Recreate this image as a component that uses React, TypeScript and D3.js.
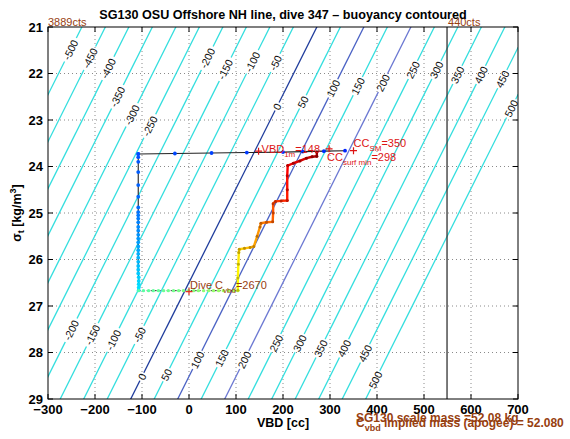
import React from "react";
import * as d3 from "d3";

const W = 570;
const H = 439;

const titleText = "SG130 OSU Offshore NH line, dive 347 – buoyancy contoured";
const xTicks = [-300, -200, -100, 0, 100, 200, 300, 400, 500, 600, 700];
const yTicks = [21, 22, 23, 24, 25, 26, 27, 28, 29];

// buoyancy contour levels (g) and model
const contourLevels = [-500, -450, -400, -350, -300, -250, -200, -150, -100, -50, 0, 50, 100, 150, 200, 250, 300, 350, 400, 450, 500];
const neutralVbdAtSigma29 = -124;
const vbdPerSigma = 49.5;
const upperLabelSigma = [21.49, 21.67, 21.89, 22.5, 22.89, 23.13, 21.67, 21.91, 21.75, 21.77, 22.71, 22.61, 22.32, 22.27, 22.2, 21.92, 21.92, 22.03, 22.03, 22.12, 22.75];
const lowerLabelLevels = [-200, -150, -100, -50, 0, 50, 100, 150, 200, 250, 300, 350, 400, 450, 500];
const lowerLabelSigma = [27.52, 27.62, 27.73, 27.62, 28.52, 28.48, 28.16, 28.12, 28.16, 27.8, 27.8, 27.91, 27.91, 28.02, 28.59];
const blueLevels = [0, 100, 200];
const blueColors = ["#1f3c9c", "#4a62c4", "#6b78d2"];

// dive track [VBD cc, sigma_t]
const surfaceTrack: [number, number][] = [
  [332, 23.66], [287, 23.67], [242, 23.68], [200, 23.69], [123, 23.7], [48, 23.71], [-30, 23.72], [-108, 23.73],
];
const descentTrack: [number, number][] = [
  [-108, 23.73], [-108, 23.8], [-108, 23.9], [-108, 24.12], [-108, 24.4], [-108, 24.65], [-108, 24.88], [-108, 24.98],
  [-108, 25.05], [-108, 25.12], [-108, 25.2], [-108, 25.3], [-108, 25.38], [-108, 25.47], [-108, 25.55], [-108, 25.63],
  [-108, 25.72], [-108, 25.8], [-108, 25.88], [-108, 25.96], [-108, 26.05], [-108, 26.14], [-108, 26.22], [-108, 26.3],
  [-107, 26.38], [-107, 26.46], [-107, 26.53], [-107, 26.6], [-107, 26.66],
];
const apogeeTrack: [number, number][] = [
  [-107, 26.67], [-97, 26.67], [-86, 26.67], [-76, 26.67], [-65, 26.67], [-54, 26.67], [-44, 26.67], [-33, 26.67],
  [-22, 26.67], [-12, 26.67], [-1, 26.67], [10, 26.67], [20, 26.67], [31, 26.67], [42, 26.67], [52, 26.67],
  [63, 26.67], [73, 26.67], [84, 26.67], [95, 26.67], [104, 26.67],
];
const climbTrack: [number, number][] = [
  [104, 26.66], [104, 26.4], [105, 26.1], [106, 25.85], [107, 25.78], [118, 25.76], [130, 25.74], [138, 25.72],
  [145, 25.5], [151, 25.3], [153, 25.22], [165, 25.2], [178, 25.19], [179, 25.0], [179, 24.8], [184, 24.75],
  [196, 24.74], [209, 24.73], [209, 24.5], [209, 24.2], [210, 23.98], [222, 23.93], [236, 23.88], [250, 23.82],
  [262, 23.79], [272, 23.78], [272, 23.69],
];

const vbd1m = 148;
const ccSM = 350;
const ccSurfMin = 298;
const diveCvbd = 2670;
const maxCountsLabel = "3889cts";
const minCountsLabel = "440cts";
const minCountsVbd = 549;
const scaleMass = "52.08";
const impliedMass = "52.080";

const jet = d3
  .scaleLinear<string>()
  .domain([0, 0.125, 0.375, 0.625, 0.875, 1])
  .range(["#00008f", "#0000ff", "#00ffff", "#ffff00", "#ff0000", "#800000"]);

const FONT = "'Liberation Sans', Arial, Helvetica, sans-serif";
const BROWN = "#974010";
const RED = "#dd1414";

export default function App() {
  const x = d3.scaleLinear().domain([-300, 700]).range([48, 518]);
  const y = d3.scaleLinear().domain([21, 29]).range([27, 399]);
  const [xa, xb] = x.range();
  const [ya, yb] = y.range();
  const neutral = (s: number) => neutralVbdAtSigma29 + vbdPerSigma * (29 - s);
  const line = d3.line<[number, number]>().x((d) => x(d[0])).y((d) => y(d[1]));

  const p1 = [x(neutral(21)), y(21)];
  const p2 = [x(neutral(29)), y(29)];
  const angle = (Math.atan2(p1[1] - p2[1], p1[0] - p2[0]) * 180) / Math.PI;

  const contourColor = (lv: number) => {
    const i = blueLevels.indexOf(lv);
    return i >= 0 ? blueColors[i] : "#34dede";
  };

  const labels: { lv: number; cx: number; cy: number }[] = [];
  contourLevels.forEach((lv, i) => {
    const s = upperLabelSigma[i];
    labels.push({ lv, cx: x(lv + neutral(s)), cy: y(s) });
  });
  lowerLabelLevels.forEach((lv, i) => {
    const s = lowerLabelSigma[i];
    labels.push({ lv, cx: x(lv + neutral(s)), cy: y(s) });
  });
  const labelW = (lv: number) => String(lv).length * 5.8 + 3;

  const phase = (arr: any[], a: number, b: number) => (i: number) => a + ((b - a) * i) / Math.max(1, arr.length - 1);
  const surfPh = phase(surfaceTrack, 0.16, 0.2);
  const descPh = phase(descentTrack, 0.2, 0.35);
  const apoPh = phase(apogeeTrack, 0.46, 0.54);
  const climbPh = phase(climbTrack, 0.62, 0.97);

  const plus = (px: number, py: number, color: string, key: string) => (
    <path key={key} d={`M${px - 3.5},${py}H${px + 3.5}M${px},${py - 3.5}V${py + 3.5}`} stroke={color} strokeWidth={1.2} fill="none" />
  );

  const vx1 = x(vbd1m), vy1 = y(23.67);
  const smx = x(ccSM), smy = y(23.66);
  const sfx = x(ccSurfMin), sfy = y(23.62);
  const dcx = x(0), dcy = y(26.69);

  return (
    <svg width={W} height={H} style={{ display: "block", position: "absolute", left: 0, top: 0, background: "#fff" }} fontFamily={FONT}>
      <defs>
        <clipPath id="plotclip">
          <rect x={xa} y={ya} width={xb - xa} height={yb - ya} />
        </clipPath>
        <mask id="lblmask" maskUnits="userSpaceOnUse" x={0} y={0} width={W} height={H}>
          <rect x={0} y={0} width={W} height={H} fill="#fff" />
          {labels.map((l, i) => (
            <rect
              key={i}
              x={-labelW(l.lv) / 2}
              y={-5}
              width={labelW(l.lv)}
              height={10}
              fill="#000"
              transform={`translate(${l.cx},${l.cy}) rotate(${angle})`}
            />
          ))}
        </mask>
      </defs>
      <rect x={0} y={0} width={W} height={H} fill="#fff" />

      {/* grid */}
      <g stroke="#8a8a8a" strokeWidth={1} strokeDasharray="1 3">
        {xTicks.slice(1, -1).map((t) => (
          <line key={"gx" + t} x1={x(t)} x2={x(t)} y1={ya} y2={yb} />
        ))}
        {yTicks.slice(1, -1).map((t) => (
          <line key={"gy" + t} x1={xa} x2={xb} y1={y(t)} y2={y(t)} />
        ))}
      </g>

      {/* contours */}
      <g clipPath="url(#plotclip)">
        <g mask="url(#lblmask)" fill="none" strokeWidth={1.3}>
          {contourLevels.map((lv) => (
            <path
              key={"c" + lv}
              d={line([
                [lv + neutral(20.5), 20.5],
                [lv + neutral(29.5), 29.5],
              ]) || ""}
              stroke={contourColor(lv)}
            />
          ))}
        </g>
        <g fontSize={10.5} fill="#111" textAnchor="middle" dominantBaseline="central">
          {labels.map((l, i) => (
            <text key={"l" + i} transform={`translate(${l.cx},${l.cy}) rotate(${angle})`}>
              {String(l.lv)}
            </text>
          ))}
        </g>

        {/* min counts line */}
        <line x1={x(minCountsVbd)} x2={x(minCountsVbd)} y1={ya} y2={yb} stroke="#333" strokeWidth={1.3} />

        {/* dive track */}
        <path d={line(surfaceTrack) || ""} stroke="#222" strokeWidth={1.1} fill="none" />
        <path d={line(descentTrack) || ""} stroke="#222" strokeWidth={1.1} fill="none" />
        <path d={line(apogeeTrack) || ""} stroke="#333" strokeWidth={1} strokeDasharray="2 2" fill="none" />
        {climbTrack.slice(1).map((d, i) => (
          <line
            key={"cl" + i}
            x1={x(climbTrack[i][0])}
            y1={y(climbTrack[i][1])}
            x2={x(d[0])}
            y2={y(d[1])}
            stroke={jet(climbPh(i))}
            strokeWidth={2.4}
            strokeLinecap="round"
          />
        ))}
        {surfaceTrack.map((d, i) => (
          <circle key={"sm" + i} cx={x(d[0])} cy={y(d[1])} r={1.9} fill={jet(surfPh(i))} />
        ))}
        {descentTrack.map((d, i) => (
          <circle key={"dm" + i} cx={x(d[0])} cy={y(d[1])} r={1.9} fill={jet(descPh(i))} />
        ))}
        {apogeeTrack.map((d, i) => (
          <circle key={"am" + i} cx={x(d[0])} cy={y(d[1])} r={1.7} fill={jet(apoPh(i))} />
        ))}
        {climbTrack.map((d, i) => (
          <circle key={"cm" + i} cx={x(d[0])} cy={y(d[1])} r={1.5} fill={d3.color(jet(climbPh(i)))!.darker(0.8).formatHex()} />
        ))}
      </g>

      {/* annotations */}
      {plus(vx1, vy1, RED, "p1")}
      <text x={vx1 + 3} y={vy1 + 2} fontSize={11} fill={RED}>
        VBD<tspan fontSize={8} dy={4}>1m</tspan>
        <tspan dy={-4}>{"=" + vbd1m}</tspan>
      </text>
      {plus(smx, smy, RED, "p2")}
      <text x={smx} y={smy - 4} fontSize={11} fill={RED}>
        CC<tspan fontSize={8} dy={4}>SM</tspan>
        <tspan dy={-4}>{"=" + ccSM}</tspan>
      </text>
      {plus(sfx, sfy, RED, "p3")}
      <text x={sfx - 2} y={sfy + 12} fontSize={11} fill={RED}>
        CC<tspan fontSize={8} dy={4}>surf min</tspan>
        <tspan dy={-4}>{"=" + ccSurfMin}</tspan>
      </text>
      {plus(dcx, dcy, "#e03020", "p4")}
      <text x={dcx + 1} y={dcy - 3} fontSize={11} fill={BROWN}>
        Dive C<tspan fontSize={8} dy={4}>vbd</tspan>
        <tspan dy={-4}>{"=" + diveCvbd}</tspan>
      </text>

      <text x={xa} y={ya - 1} fontSize={11} fill={BROWN}>
        {maxCountsLabel}
      </text>
      <text x={x(minCountsVbd) + 1} y={ya - 1} fontSize={11} fill={BROWN}>
        {minCountsLabel}
      </text>

      {/* axes box and ticks */}
      <rect x={xa} y={ya} width={xb - xa} height={yb - ya} fill="none" stroke="#000" strokeWidth={1} />
      <g stroke="#000" strokeWidth={1}>
        {xTicks.map((t) => (
          <g key={"tx" + t}>
            <line x1={x(t)} x2={x(t)} y1={yb} y2={yb - 5} />
            <line x1={x(t)} x2={x(t)} y1={ya} y2={ya + 5} />
          </g>
        ))}
        {yTicks.map((t) => (
          <g key={"ty" + t}>
            <line x1={xa} x2={xa + 5} y1={y(t)} y2={y(t)} />
            <line x1={xb} x2={xb - 5} y1={y(t)} y2={y(t)} />
          </g>
        ))}
      </g>
      <g fontSize={13} fontWeight="bold" fill="#000">
        {xTicks.map((t) => (
          <text key={"xl" + t} x={x(t)} y={yb + 15} textAnchor="middle">
            {t < 0 ? "\u2212" + Math.abs(t) : String(t)}
          </text>
        ))}
        {yTicks.map((t) => (
          <text key={"yl" + t} x={xa - 5} y={y(t) + 4.5} textAnchor="end">
            {String(t)}
          </text>
        ))}
      </g>
      <text x={(xa + xb) / 2} y={427} fontSize={12.5} fontWeight="bold" textAnchor="middle">
        VBD [cc]
      </text>
      <text transform={`translate(21,${(ya + yb) / 2}) rotate(-90)`} fontSize={12.5} fontWeight="bold" textAnchor="middle">
        σ<tspan fontSize={9} dy={3}>t</tspan>
        <tspan dy={-3}> [kg/m</tspan>
        <tspan fontSize={9} dy={-5}>3</tspan>
        <tspan dy={5}>]</tspan>
      </text>
      <text x={283} y={19} fontSize={12.6} fontWeight="bold" textAnchor="middle">
        {titleText}
      </text>

      <text x={356} y={422} fontSize={12} fontWeight="bold" fill={BROWN}>
        {"SG130 scale mass =" + scaleMass + " kg"}
      </text>
      <text x={356} y={427} fontSize={12} fontWeight="bold" fill={BROWN}>
        C<tspan fontSize={9} dy={4}>vbd</tspan>
        <tspan dy={-4}>{" implied mass (apogee) = " + impliedMass}</tspan>
      </text>
    </svg>
  );
}
